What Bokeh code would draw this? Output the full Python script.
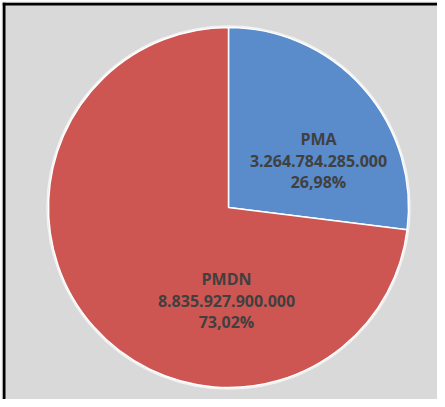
import math
from bokeh.plotting import figure
from bokeh.models import ColumnDataSource, Range1d, Span
from bokeh.core.properties import value
from bokeh.embed import file_html
from bokeh.resources import INLINE

# ---- data ----
categories = ["PMA", "PMDN"]
amounts = [3264784285000, 8835927900000]
value_labels = ["3.264.784.285.000", "8.835.927.900.000"]
percent_labels = ["26,98%", "73,02%"]
colors = ["#5A8BCB", "#CD5653"]

# ---- layout ----
W, H = 437, 399
BT, BL = 2, 2
FW, FH = W - BL, H - BT
cx, cy, R = 226, FH - 205, 180

total = float(sum(amounts))
starts, ends = [], []
a = math.pi / 2
for v in amounts:
    starts.append(a)
    a -= 2 * math.pi * v / total
    ends.append(a)

p = figure(width=W, height=H, output_backend="svg", toolbar_location=None,
           x_range=Range1d(0, FW), y_range=Range1d(0, FH),
           min_border_left=BL, min_border_top=BT, min_border_right=0, min_border_bottom=0)
p.border_fill_color = "#F2F2F2"
p.background_fill_color = "#D9D9D9"
p.outline_line_color = None
p.axis.visible = False
p.grid.visible = False

# black frame edges (top and left)
p.add_layout(Span(location=FH - 1.5, dimension="width", line_color="black", line_width=3))
p.add_layout(Span(location=1.5, dimension="height", line_color="black", line_width=3))

# soft outline ring
p.circle(x=[cx], y=[cy], radius=R + 1.5, fill_color=None, line_color="#F2F2F2", line_width=1.5)

src = ColumnDataSource(dict(cat=categories, start=ends, end=starts, color=colors))
p.wedge(x=cx, y=cy, radius=R, start_angle="start", end_angle="end", source=src,
        fill_color="color", line_color="white", line_width=1.5)

# labels (offsets relative to pie centre)
offsets = [(90, 47), (-2, -93)]
lx, ly, lt = [], [], []
for i, cat in enumerate(categories):
    ox, oy = offsets[i]
    for k, t in enumerate([cat, value_labels[i], percent_labels[i]]):
        lx.append(cx + ox)
        ly.append(cy + oy + 21.5 - 21.5 * k)
        lt.append(t)
p.text(x=lx, y=ly, text=lt, text_align="center", text_baseline="middle",
       text_font=value("Open Sans"), text_font_style="bold", text_font_size="16px",
       text_color="#404040")

open("out.html", "w").write(file_html(p, INLINE))
